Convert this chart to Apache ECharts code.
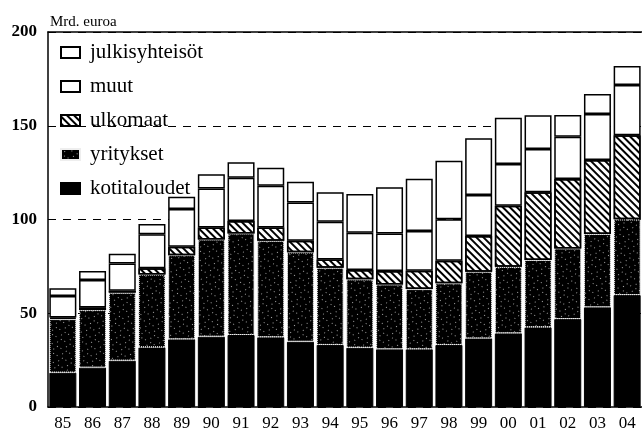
<!DOCTYPE html>
<html>
<head>
<meta charset="utf-8">
<script src="https://cdn.jsdelivr.net/npm/echarts@6/dist/echarts.min.js"></script>
<style>
  html, body { margin: 0; padding: 0; background: #fff; }
  #main { width: 642px; height: 433px; }
</style>
</head>
<body>
<div id="main"></div>
<script>
// vuodet
var years = ['85', '86', '87', '88', '89', '90', '91', '92', '93', '94',
             '95', '96', '97', '98', '99', '00', '01', '02', '03', '04'];
// Mrd. euroa, pinottuna alhaalta ylös
var kotitaloudet = [18.3, 21.0, 24.7, 31.8, 36.1, 37.5, 38.4, 37.2, 34.8, 33.1,
                    31.6, 30.8, 30.8, 33.1, 36.6, 39.3, 42.5, 46.9, 53.2, 59.7];
var yritykset = [28.6, 30.7, 36.3, 38.9, 44.9, 51.9, 54.2, 51.5, 47.7, 41.2,
                 36.5, 34.6, 32.1, 32.9, 35.6, 35.5, 35.9, 37.7, 39.1, 40.4];
var ulkomaat = [0.8, 1.4, 1.0, 3.3, 4.5, 6.4, 6.6, 7.1, 6.2, 4.4,
                5.0, 7.1, 9.8, 12.0, 19.0, 32.6, 36.1, 37.0, 39.4, 44.9];
var muut = [11.5, 14.6, 14.6, 18.1, 20.1, 20.8, 23.1, 22.2, 20.4, 20.1,
            19.9, 20.1, 21.2, 22.1, 21.9, 22.2, 23.1, 22.6, 24.6, 26.7];
var julkisyhteisot = [4.1, 4.8, 5.2, 5.5, 6.6, 7.5, 8.2, 9.6, 11.1, 15.7,
                      20.6, 24.6, 27.9, 31.3, 30.2, 24.7, 18.0, 11.5, 10.6, 10.2];
var yTicks = [0, 50, 100, 150, 200];

var font = '"Liberation Serif", "DejaVu Serif", serif';
var chart = echarts.init(document.getElementById('main'));

function barSeries(name, data, itemStyle) {
  return {
    name: name,
    type: 'bar',
    stack: 'total',
    barWidth: 27,
    data: data,
    itemStyle: itemStyle,
    emphasis: { disabled: true }
  };
}

var option = {
  animation: false,
  backgroundColor: '#fff',
  title: {
    text: 'Mrd. euroa',
    left: 45,
    top: 10,
    textStyle: { fontFamily: font, fontSize: 15, fontWeight: 'normal', color: '#000' }
  },
  legend: {
    orient: 'vertical',
    left: 55,
    top: 37,
    icon: 'rect',
    itemWidth: 19,
    itemHeight: 11,
    itemGap: 13,
    data: ['julkisyhteisöt', 'muut', 'ulkomaat', 'yritykset', 'kotitaloudet'],
    textStyle: { fontFamily: font, fontSize: 21, color: '#000', padding: [0, 0, 0, 5] }
  },
  grid: { left: 48, top: 32, width: 600, bottom: 26, containLabel: false },
  xAxis: [{
    type: 'category',
    data: years,
    axisLine: { show: true, lineStyle: { color: '#000', width: 1.5 } },
    axisTick: { show: false },
    axisLabel: { fontFamily: font, fontSize: 17, color: '#000', margin: 8 }
  }, {
    type: 'category',
    position: 'top',
    data: years,
    axisLine: { show: true, lineStyle: { color: '#000', width: 1.5 } },
    axisTick: { show: false },
    axisLabel: { show: false }
  }],
  yAxis: {
    type: 'value',
    min: yTicks[0],
    max: yTicks[yTicks.length - 1],
    interval: 50,
    axisLine: { show: true, lineStyle: { color: '#000', width: 1.5 } },
    axisTick: { show: false },
    axisLabel: { fontFamily: font, fontSize: 17, fontWeight: 'bold', color: '#000', margin: 11 },
    splitLine: { show: true, lineStyle: { color: '#000', width: 1, type: [8, 7] } }
  },
  series: [
    barSeries('kotitaloudet', kotitaloudet, { color: '#000', borderColor: '#000', borderWidth: 1 }),
    barSeries('yritykset', yritykset, {
      color: '#000',
      borderColor: '#eee',
      borderWidth: 1,
      borderType: 'dotted',
      decal: {
        symbol: 'rect',
        symbolSize: 0.8,
        color: 'rgba(255,255,255,0.8)',
        dashArrayX: [[1, 5, 1, 3], [0, 4, 1, 5]],
        dashArrayY: [1, 3],
        rotation: 0.5
      }
    }),
    barSeries('ulkomaat', ulkomaat, {
      color: '#fff',
      borderColor: '#000',
      borderWidth: 1.5,
      decal: {
        symbol: 'rect',
        symbolSize: 1,
        color: '#000',
        dashArrayX: [1, 0],
        dashArrayY: [2, 3],
        rotation: Math.PI / 4
      }
    }),
    barSeries('muut', muut, { color: '#fff', borderColor: '#000', borderWidth: 1.5 }),
    barSeries('julkisyhteisöt', julkisyhteisot, { color: '#fff', borderColor: '#000', borderWidth: 1.5 })
  ]
};

chart.setOption(option);
</script>
</body>
</html>
